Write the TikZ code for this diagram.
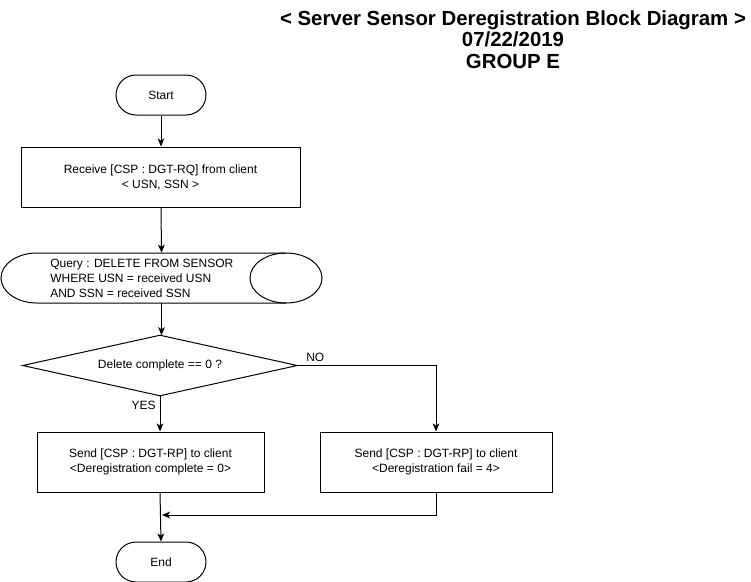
\documentclass[tikz,border=0pt]{standalone}
\usepackage{fontspec}
\setmainfont{Liberation Sans}
\usetikzlibrary{arrows.meta,calc}
\begin{document}
\begin{tikzpicture}[x=0.75pt,y=-0.75pt,
  every node/.style={font=\fontsize{9}{11.25}\selectfont, inner sep=0pt},
  ln/.style={line width=0.75pt, draw=black},
  arr/.style={ln, -{Stealth[length=6pt,width=5pt,inset=1.5pt]}},
  term/.style={ln, rectangle, rounded corners=15pt, minimum width=67.5pt, minimum height=30pt},
  procbox/.style={ln, rectangle, minimum height=45pt, align=center},
  lbl/.style={font=\fontsize{9}{11}\selectfont}
]
\useasboundingbox (0,0) rectangle (751,582);

% title
\node[align=center, font=\fontsize{15.3}{16.2}\selectfont\bfseries] (title) at (513,39.5)
  {< Server Sensor Deregistration Block Diagram >\\07/22/2019\\GROUP E};

% start
\node[term] (start) at (161,95) {Start};

% receive
\node[procbox, minimum width=209.25pt] (recv) at (160.5,177)
  {Receive [CSP : DGT-RQ] from client\\< USN, SSN >};

% query cylinder
\node[minimum width=239.25pt, minimum height=37.5pt] (q) at (161.5,278) {};
\draw[ln] (286,253) -- (37,253) arc (-90:-270:36 and 25) -- (286,303);
\draw[ln] (286,278) ellipse [x radius=36, y radius=25];
\node[anchor=west, align=left] (qt) at (50,278)
  {Query : DELETE FROM SENSOR\\WHERE USN = received USN\\AND SSN = received SSN};

% decision
\node[minimum width=205.5pt, minimum height=45pt] (d) at (160,365.5) {Delete complete == 0 ?};
\draw[ln] (d.north) -- (d.east) -- (d.south) -- (d.west) -- cycle;

% sends
\node[procbox, minimum width=170.25pt] (ok) at (150.5,462)
  {Send [CSP : DGT-RP] to client\\<Deregistration complete = 0>};
\node[procbox, minimum width=174pt] (fail) at (436,462)
  {Send [CSP : DGT-RP] to client\\<Deregistration fail = 4>};

% end
\node[term] (end) at (161,562) {End};

% connectors
\draw[arr] (start.south) -- (recv.north -| start.south);
\draw[arr] (recv.south -| start.south) -- (q.north);
\draw[arr] (q.south) -- (d.north -| q.south);
\draw[arr] (d.south) -- (d.south |- ok.north);
\draw[arr] (d.east) -| (fail.north);
\draw[arr] (ok.south -| d.south) -- (end.north);
\coordinate (m) at (162,515);
\draw[arr] (fail.south) |- (m);

% labels
\node[lbl, anchor=west] (no) at (306,357) {NO};
\node[lbl, anchor=east] (yes) at (156,405) {YES};
\end{tikzpicture}
\end{document}
